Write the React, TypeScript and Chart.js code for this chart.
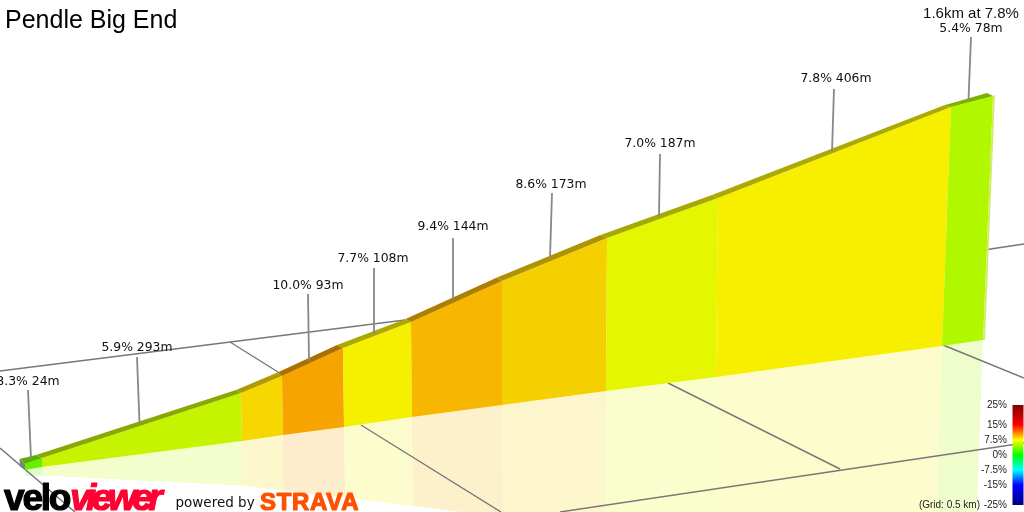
import React, { useEffect, useRef } from "react";
import { Chart, registerables } from "chart.js";

Chart.register(...registerables);

// ---- (projected road profile, in picture units) ----
const titleText = "Pendle Big End";
const summaryText = "1.6km at 7.8%";
const gridNote = "(Grid: 0.5 km)";

const labelGrades = ["8.3", "5.9", "10.0", "7.7", "9.4", "8.6", "7.0", "7.8", "5.4"];
const labelLengths = [24, 293, 93, 108, 144, 173, 187, 406, 78];
const labelX = [24, 137, 308, 373, 453, 551, 660, 836, 971];
const labelY = [382, 348, 286, 259, 227, 185, 144, 79, 29];
const leaderTopX = [28, 137, 308, 374, 453, 552, 660, 834, 971];
const leaderTopY = [390, 357, 294, 268, 238, 193, 154, 89, 37];
const leaderEndX = [31, 139.5, 309, 374, 453, 550, 659, 832, 968.5];
const leaderEndY = [459, 423, 361, 334, 300, 258, 216, 152, 100];

// boundaries between gradient bands
const frontTopX = [25, 42, 241, 282, 343, 411, 502, 607, 718, 951, 993];
const frontTopY = [464, 458, 393, 376, 348, 322, 281, 238, 198, 107, 96];
const backTopX = [19.5, 36, 236, 277.5, 337, 405.5, 497, 600.5, 712, 943.5, 987];
const backTopY = [459, 455, 390, 372.5, 345, 319, 277.5, 235, 195, 105.5, 93];
const baseX = [25, 42, 242, 283, 344, 412, 502, 606, 716, 942, 983];
const baseY = [470, 467, 441, 435, 427, 417, 405, 391, 377, 346, 340];
const mirrorX = [25, 42, 242, 283.5, 345, 413, 503, 605, 714, 934.5, 974.5];
const mirrorY = [476, 475.5, 485.5, 490.5, 497.5, 506, 517, 530, 544, 572, 577];

const bandColors = ["#66f000", "#c6f400", "#f7d700", "#f7a400", "#f5f000", "#f7b700", "#f5d000", "#e4f700", "#f7ee00", "#b0f700"];
const roadColors = ["#5cb000", "#8aa800", "#b09a00", "#ad7000", "#aca800", "#ad7e00", "#ae9200", "#a6aa00", "#acaa00", "#7eb000"];

const gridX1 = [0, 230, 0, 361, 668, 560, 943, 984];
const gridY1 = [371, 342, 448, 425, 383, 512, 345, 250];
const gridX2 = [405, 278, 75, 501, 840, 1024, 1024, 1024];
const gridY2 = [320, 372, 512, 512, 469, 443, 378, 244];

const sideX = [19.5, 25, 25, 20];
const sideY = [459, 464, 470, 466.5];
const endCapX = [993, 995, 985, 983];
const endCapY = [96, 95, 340, 340];

const legendValues = [25, 15, 7.5, 0, -7.5, -15, -25];
const legendTexts = ["25%", "15%", "7.5%", "0%", "-7.5%", "-15%", "-25%"];
const legendColors = ["#800000", "#ff0000", "#ffff00", "#00ff00", "#00ffff", "#0000ff", "#000080"];
const legendLeft = 1012.5;
const legendRight = 1023.5;
const legendTop = 405;
const legendBottom = 505;

const pts = (xs: number[], ys: number[]) => xs.map((x, i) => ({ x, y: ys[i] }));

function polygon(xs: number[], ys: number[], color: string, extra: any = {}) {
  return {
    data: pts(xs, ys),
    polygonFill: color,
    showLine: false,
    pointRadius: 0,
    borderWidth: 0,
    clip: false,
    ...extra,
  };
}

function segment(x1: number, y1: number, x2: number, y2: number, color: string, width: number) {
  return {
    data: pts([x1, x2], [y1, y2]),
    showLine: true,
    borderColor: color,
    borderWidth: width,
    pointRadius: 0,
    clip: false,
  };
}

function alpha(hex: string, a: number) {
  const n = parseInt(hex.slice(1), 16);
  return `rgba(${(n >> 16) & 255},${(n >> 8) & 255},${n & 255},${a})`;
}

function buildDatasets() {
  const painter: any[] = [];
  // reflections
  bandColors.forEach((c, i) => {
    painter.push(
      polygon(
        [baseX[i], baseX[i + 1], mirrorX[i + 1], mirrorX[i]],
        [baseY[i], baseY[i + 1], mirrorY[i + 1], mirrorY[i]],
        alpha(c, 0.2)
      )
    );
  });
  // ground grid
  gridX1.forEach((x, i) => painter.push(segment(x, gridY1[i], gridX2[i], gridY2[i], "#777777", 1.4)));
  // wall side
  painter.push(polygon(sideX, sideY, "#808080"));
  // wall bands and road
  bandColors.forEach((c, i) => {
    painter.push(
      polygon(
        [frontTopX[i], frontTopX[i + 1], baseX[i + 1], baseX[i]],
        [frontTopY[i], frontTopY[i + 1], baseY[i + 1], baseY[i]],
        c
      )
    );
    painter.push(
      polygon(
        [backTopX[i], backTopX[i + 1], frontTopX[i + 1], frontTopX[i]],
        [backTopY[i], backTopY[i + 1], frontTopY[i + 1], frontTopY[i]],
        roadColors[i]
      )
    );
  });
  painter.push(polygon(endCapX, endCapY, "#d2ec6a"));
  // leaders
  leaderTopX.forEach((x, i) => painter.push(segment(x, leaderTopY[i], leaderEndX[i], leaderEndY[i], "#888888", 1.8)));
  // colour scale
  painter.push(
    polygon(
      [legendLeft, legendRight, legendRight, legendLeft],
      [legendTop, legendTop, legendBottom, legendBottom],
      "gradient"
    )
  );
  // Chart.js paints the first dataset last
  return painter.reverse();
}

const polygonPlugin = {
  id: "polygonPlugin",
  beforeDatasetDraw(chart: any, args: any) {
    const ds = chart.data.datasets[args.index];
    if (!ds.polygonFill) return;
    const { ctx } = chart;
    const points = args.meta.data;
    ctx.save();
    ctx.beginPath();
    points.forEach((p: any, i: number) => (i ? ctx.lineTo(p.x, p.y) : ctx.moveTo(p.x, p.y)));
    ctx.closePath();
    if (ds.polygonFill === "gradient") {
      const g = ctx.createLinearGradient(0, points[0].y, 0, points[2].y);
      legendValues.forEach((v, i) => g.addColorStop((25 - v) / 50, legendColors[i]));
      ctx.fillStyle = g;
    } else {
      ctx.fillStyle = ds.polygonFill;
    }
    ctx.fill();
    ctx.restore();
  },
};

const textPlugin = {
  id: "textPlugin",
  afterDatasetsDraw(chart: any) {
    const { ctx } = chart;
    const sx = chart.scales.x;
    const sy = chart.scales.y;
    const put = (t: string, x: number, y: number, font: string, color: string, align: any, base: any = "middle") => {
      ctx.font = font;
      ctx.fillStyle = color;
      ctx.textAlign = align;
      ctx.textBaseline = base;
      ctx.fillText(t, sx.getPixelForValue(x), sy.getPixelForValue(y));
    };
    const heavy = (t: string, x: number, y: number, font: string, color: string, spacing: number, weight: number) => {
      ctx.save();
      ctx.letterSpacing = `${spacing}px`;
      ctx.font = font;
      ctx.textAlign = "left";
      ctx.textBaseline = "alphabetic";
      ctx.fillStyle = color;
      ctx.strokeStyle = color;
      ctx.lineWidth = weight;
      ctx.lineJoin = "round";
      const px = sx.getPixelForValue(x);
      const py = sy.getPixelForValue(y);
      ctx.strokeText(t, px, py);
      ctx.fillText(t, px, py);
      ctx.restore();
    };
    ctx.save();
    const dejavu = "12.4px 'DejaVu Sans'";
    labelGrades.forEach((g, i) =>
      put(`${g}% ${labelLengths[i]}m`, i === 0 ? labelX[i] + 4 : labelX[i], labelY[i], dejavu, "#111111", "center")
    );
    put(summaryText, 971, 13.5, "15px 'Liberation Sans'", "#111111", "center");

    legendTexts.forEach((t, i) => {
      const y = legendTop + ((25 - legendValues[i]) / 50) * (legendBottom - legendTop);
      put(t, 1007, y, "10px 'Liberation Sans'", "#222222", "right");
    });
    put(gridNote, 980, 505, "10px 'Liberation Sans'", "#222222", "right");

    heavy("velo", 4, 510, "bold 37px 'Liberation Sans'", "#000000", -2.2, 1.2);
    heavy("viewer", 70, 510, "italic bold 37px 'Liberation Sans'", "#ff0033", -4.5, 1.2);
    put("powered by", 175.5, 507, "13.5px 'DejaVu Sans'", "#111111", "left", "alphabetic");
    heavy("STRAVA", 260, 509.5, "bold 24px 'Liberation Sans'", "#fc5200", 0.7, 1.2);
    ctx.restore();
  },
};

export default function App() {
  const ref = useRef<HTMLCanvasElement>(null);
  useEffect(() => {
    const chart = new Chart(ref.current as HTMLCanvasElement, {
      type: "scatter",
      data: { datasets: buildDatasets() },
      plugins: [polygonPlugin, textPlugin],
      options: {
        animation: false,
        responsive: false,
        devicePixelRatio: 1,
        layout: { padding: { left: 5 } },
        scales: {
          x: { type: "linear", min: 5, max: 1024, display: false },
          y: { type: "linear", reverse: true, min: 36, max: 512, display: false },
        },
        plugins: {
          legend: { display: false },
          tooltip: { enabled: false },
          title: {
            display: true,
            text: titleText,
            align: "start",
            color: "#000000",
            font: { family: "'Liberation Sans'", size: 25, weight: "normal", lineHeight: 1.2 },
            padding: { top: 6, bottom: 0 },
          },
        },
      },
    } as any);
    return () => chart.destroy();
  }, []);
  return (
    <div style={{ position: "fixed", left: 0, top: 0, width: 1024, height: 512, background: "#ffffff" }}>
      <canvas ref={ref} width={1024} height={512} style={{ display: "block" }} />
    </div>
  );
}
